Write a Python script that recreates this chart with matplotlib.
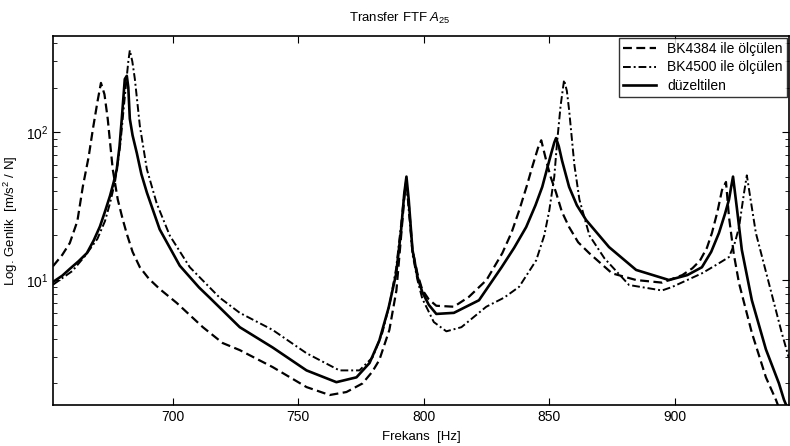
import numpy as np
import matplotlib
matplotlib.use("Agg")
import matplotlib.pyplot as plt

plt.rcParams['font.family'] = ['Liberation Sans', 'DejaVu Sans']
plt.rcParams['mathtext.fontset'] = 'custom'
plt.rcParams['mathtext.rm'] = 'Liberation Sans'
plt.rcParams['mathtext.it'] = 'Liberation Sans:italic'

# BK4384 ile ölçülen (kesikli)
f_bk4384 = [652.3, 656.0, 659.0, 662.0, 664.2, 666.5, 668.2, 670.0, 671.4, 672.8,
            674.1, 676.1, 678.1, 680.0, 681.7, 684.0, 686.9, 690.5, 694.8, 701.6,
            712.0, 719.9, 726.7, 739.8, 753.3, 762.5, 769.2, 775.6, 779.5, 782.3,
            786.3, 789.1, 791.0, 792.2, 793.0, 794.0, 795.5, 797.5, 799.4, 802.0,
            805.0, 812.0, 818.0, 825.0, 831.3, 835.0, 838.0, 841.0, 843.2, 845.5,
            846.8, 848.8, 850.5, 852.7, 855.0, 857.9, 861.5, 865.9, 875.0, 884.6,
            895.0, 903.0, 907.0, 910.0, 912.8, 914.8, 917.0, 918.8, 920.4, 921.6,
            923.5, 925.6, 930.7, 936.3, 940.3, 942.0]
a_bk4384 = [12.4, 14.8, 17.8, 25, 43, 68, 105, 160, 215, 180,
            123, 56, 35, 26, 20.5, 15.5, 12.2, 10.2, 8.7, 7.0,
            4.8, 3.75, 3.36, 2.58, 1.89, 1.67, 1.75, 2.0, 2.4, 2.88,
            4.6, 8.5, 20, 35, 47, 33, 16, 11, 8.6, 7.4,
            6.7, 6.6, 7.7, 10.0, 15.2, 21, 29.5, 43, 58, 78,
            88, 64, 50, 39, 29, 22.8, 18, 15.2, 11.1, 10.0,
            9.6, 10.8, 12, 13.5, 16.5, 20.8, 29, 40.5, 46, 26.6,
            15, 9.5, 4.4, 2.2, 1.55, 1.3]

# BK4500 ile ölçülen (kesik-noktalı)
f_bk4500 = [652.3, 656.0, 660.0, 665.0, 670.0, 673.0, 675.0, 677.0, 678.0, 679.2,
            680.0, 681.0, 681.5, 682.3, 682.9, 683.9, 684.9, 686.9, 689.7, 693.6,
            698.8, 706.8, 718.7, 726.7, 739.8, 753.3, 766.4, 774.4, 779.6, 783.5,
            786.5, 789.0, 791.0, 792.2, 793.0, 794.0, 795.5, 797.5, 799.4, 804.0,
            809.0, 815.0, 824.9, 832.0, 838.0, 844.8, 848.0, 850.0, 852.0, 853.1,
            854.5, 855.9, 857.0, 857.9, 860.0, 862.0, 866.0, 872.0, 881.8, 894.9,
            898.9, 910.8, 917.0, 921.6, 924.0, 925.6, 927.5, 928.7, 930.2, 932.3,
            937.5, 942.6, 945.4]
a_bk4500 = [9.3, 10.3, 11.5, 14.5, 19, 25, 33, 46, 60, 85,
            120, 180, 220, 300, 357, 300, 229, 110, 56, 33,
            20, 12.2, 7.6, 6.0, 4.6, 3.2, 2.45, 2.45, 3.0, 4.4,
            7.0, 12, 24, 38, 46, 30, 15, 10, 7.5, 5.2,
            4.5, 4.8, 6.6, 7.6, 9.0, 13.6, 20, 29.5, 50, 85,
            150, 225, 190, 141, 60, 35, 20, 14, 9.25, 8.5,
            8.97, 11.1, 12.8, 14.3, 18, 22.8, 38, 51, 35, 20.8,
            9.5, 4.4, 3.0]

# düzeltilen (sürekli)
f_duz = [652.3, 656.0, 659.0, 662.5, 665.8, 668.5, 671.0, 673.0, 675.0, 676.5,
         677.7, 678.8, 679.7, 680.9, 681.7, 682.3, 682.9, 684.0, 685.7, 687.5,
         689.7, 694.8, 702.8, 710.5, 714.7, 726.7, 739.8, 753.3, 765.2, 773.2,
         778.4, 782.3, 786.0, 789.0, 791.0, 792.2, 793.1, 794.0, 795.5, 797.5,
         799.4, 802.0, 805.0, 812.0, 822.0, 831.0, 836.0, 840.8, 844.5, 847.2,
         849.3, 850.8, 852.0, 852.7, 853.8, 855.1, 857.9, 861.0, 864.7, 873.8,
         884.6, 897.7, 905.0, 910.8, 914.5, 917.6, 920.0, 921.6, 922.5, 923.2,
         924.8, 926.7, 930.7, 936.3, 941.5, 943.5, 945.0]
a_duz = [9.7, 10.7, 11.9, 13.4, 15.2, 18.5, 23, 29, 37, 46,
         56, 80, 123, 228, 240, 200, 123, 95, 72, 52,
         39, 22, 12.5, 8.9, 7.6, 4.8, 3.5, 2.45, 2.04, 2.2,
         2.75, 3.9, 6.5, 11, 22, 38, 50, 35, 16, 10.5,
         8.3, 6.8, 5.9, 6.0, 7.3, 12.2, 16.5, 22.8, 32, 42.6,
         58, 72, 85, 91, 80, 64, 42.6, 32, 25.4, 16.7,
         11.7, 10.0, 10.8, 12.2, 15.5, 20.8, 28, 35, 43, 50,
         30, 16, 7.3, 3.4, 2.0, 1.55, 1.35]

legend_labels = ['BK4384 ile ölçülen', 'BK4500 ile ölçülen', 'düzeltilen']
xticks = [700, 750, 800, 850, 900]

fig = plt.figure(figsize=(7.9, 4.46), dpi=100)
ax = fig.add_axes([53 / 790, 1 - 405 / 446, 736 / 790, 369 / 446])

ax.semilogy(f_bk4384, a_bk4384, color='black', lw=1.6, linestyle=(0, (4, 2)),
            label=legend_labels[0])
ax.semilogy(f_bk4500, a_bk4500, color='black', lw=1.4, linestyle=(0, (4, 1.5, 1, 1.5)),
            label=legend_labels[1])
ax.semilogy(f_duz, a_duz, color='black', lw=1.9, linestyle='-',
            label=legend_labels[2])

ax.set_xlim(652.3, 945.5)
ax.set_ylim(1.43, 446)
ax.set_xticks(xticks)
ax.set_xticklabels([str(t) for t in xticks])
ax.tick_params(which='both', direction='in', top=True, right=True,
               labelsize=10, color='black')
ax.tick_params(which='major', length=5)
ax.tick_params(which='minor', length=3)
for s in ax.spines.values():
    s.set_linewidth(1.2)

fig.text(400 / 790, 1 - 18 / 446, r'Transfer FTF $\mathit{A}_{25}$', ha='center',
         va='center', fontsize=9.5)
ax.set_xlabel('Frekans  [Hz]', fontsize=9.5, labelpad=5)
ax.set_ylabel(r'Log. Genlik  [m/s$^2$ / N]', fontsize=9.5, labelpad=4)

leg = ax.legend(loc='upper right', fontsize=10, frameon=True, fancybox=False,
                edgecolor='black', handlelength=2.4, borderaxespad=0.15,
                borderpad=0.3, labelspacing=0.3, handletextpad=0.8)
leg.get_frame().set_linewidth(1.0)

fig.savefig('out.png', dpi=100)
